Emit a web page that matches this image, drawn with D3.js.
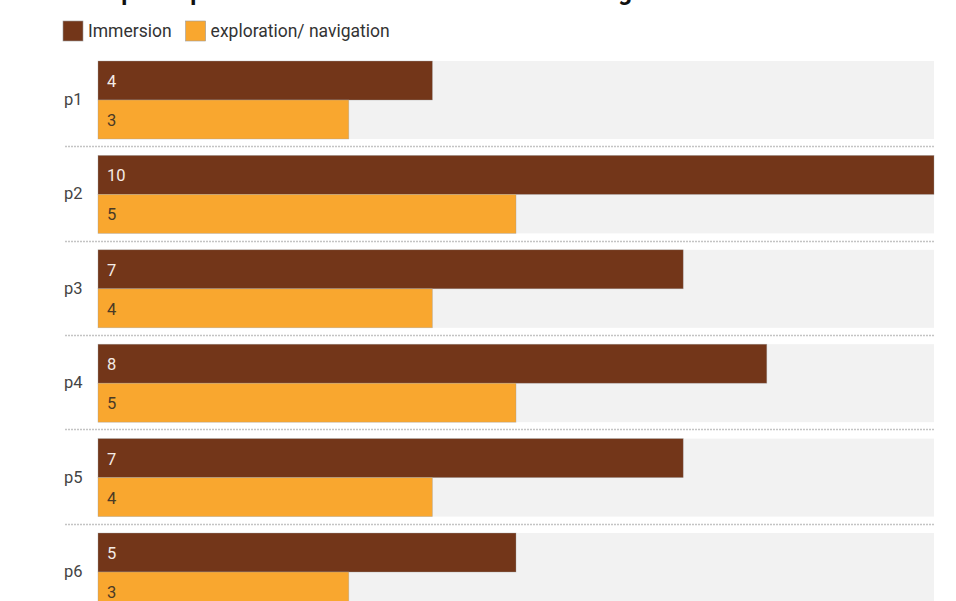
<!DOCTYPE html>
<meta charset="utf-8">
<style>
  body { margin: 0; background: #fff; }
  svg { font-family: Roboto, "Noto Sans", sans-serif; }
  .grp-label { fill: #444; font-size: 16.5px; }
  .sep { stroke: #c4c4c4; stroke-width: 1.5; stroke-dasharray: 2 1; }
</style>
<body>
<script src="https://cdn.jsdelivr.net/npm/d3@7"></script>
<script>
  var title = "Each participant's scores for immersion versus navigation";
  var participants = ["p1", "p2", "p3", "p4", "p5", "p6"];
  var seriesNames = ["Immersion", "exploration/ navigation"];
  var immersion = [4, 10, 7, 8, 7, 5];
  var exploration = [3, 5, 4, 5, 4, 3];
  var colors = ["#733619", "#f9a72f"];
  var labelColors = ["#f4ece6", "#4a3a26"];

  var W = 956, H = 601;
  var svg = d3.select("body").append("svg").attr("width", W).attr("height", H);

  // title (cut off at the top in the original)
  svg.append("text")
    .attr("x", 63).attr("y", 0)
    .attr("font-size", 24).attr("font-weight", 700).attr("fill", "#111")
    .text(title);

  // legend
  var leg = svg.append("g").attr("transform", "translate(63,21)");
  var lx = 0;
  seriesNames.forEach(function(name, i) {
    var g = leg.append("g").attr("transform", "translate(" + lx + ",0)");
    g.append("rect").attr("width", 20).attr("height", 20)
      .attr("fill", colors[i]).attr("stroke", "#999").attr("stroke-width", 0.6);
    var t = g.append("text").attr("x", 25).attr("y", 16)
      .attr("font-size", 17.5).attr("fill", "#333").text(name);
    lx += 25 + t.node().getComputedTextLength() + 14;
  });

  var x = d3.scaleLinear().domain([0, 10]).range([98, 934]);
  var y = d3.scaleBand().domain(participants).range([52.8, 619.2])
    .paddingInner(0.174).paddingOuter(0.087);
  var ys = d3.scaleBand().domain(seriesNames).range([0, y.bandwidth()]);

  var rows = participants.map(function(p, i) {
    return { name: p, values: [immersion[i], exploration[i]] };
  });

  var grp = svg.selectAll("g.row").data(rows).enter().append("g")
    .attr("class", "row")
    .attr("transform", function(d) { return "translate(0," + y(d.name) + ")"; });

  grp.append("rect")
    .attr("x", x(0)).attr("width", x(10) - x(0))
    .attr("height", y.bandwidth()).attr("fill", "#f2f2f2");

  grp.append("text").attr("class", "grp-label")
    .attr("x", 64).attr("y", y.bandwidth() / 2 + 5)
    .text(function(d) { return d.name; });

  var bars = grp.selectAll("g.bar")
    .data(function(d) { return d.values.map(function(v, j) { return { s: seriesNames[j], v: v, j: j }; }); })
    .enter().append("g").attr("class", "bar");

  bars.append("rect")
    .attr("x", x(0)).attr("y", function(d) { return ys(d.s); })
    .attr("width", function(d) { return x(d.v) - x(0); })
    .attr("height", ys.bandwidth())
    .attr("fill", function(d) { return colors[d.j]; })
    .attr("stroke", "rgba(160,160,160,0.6)").attr("stroke-width", 0.6);

  bars.append("text")
    .attr("x", x(0) + 9)
    .attr("y", function(d) { return ys(d.s) + ys.bandwidth() / 2 + 6.5; })
    .attr("font-size", 16.5)
    .attr("fill", function(d) { return labelColors[d.j]; })
    .text(function(d) { return d.v; });

  // dotted separators between rows
  svg.selectAll("line.sep").data(participants.slice(1)).enter().append("line")
    .attr("class", "sep")
    .attr("x1", 65).attr("x2", x(10))
    .attr("y1", function(p) { return Math.round(y(p) - (y.step() - y.bandwidth()) / 2) - 0.5; })
    .attr("y2", function(p) { return Math.round(y(p) - (y.step() - y.bandwidth()) / 2) - 0.5; });
</script>
</body>
